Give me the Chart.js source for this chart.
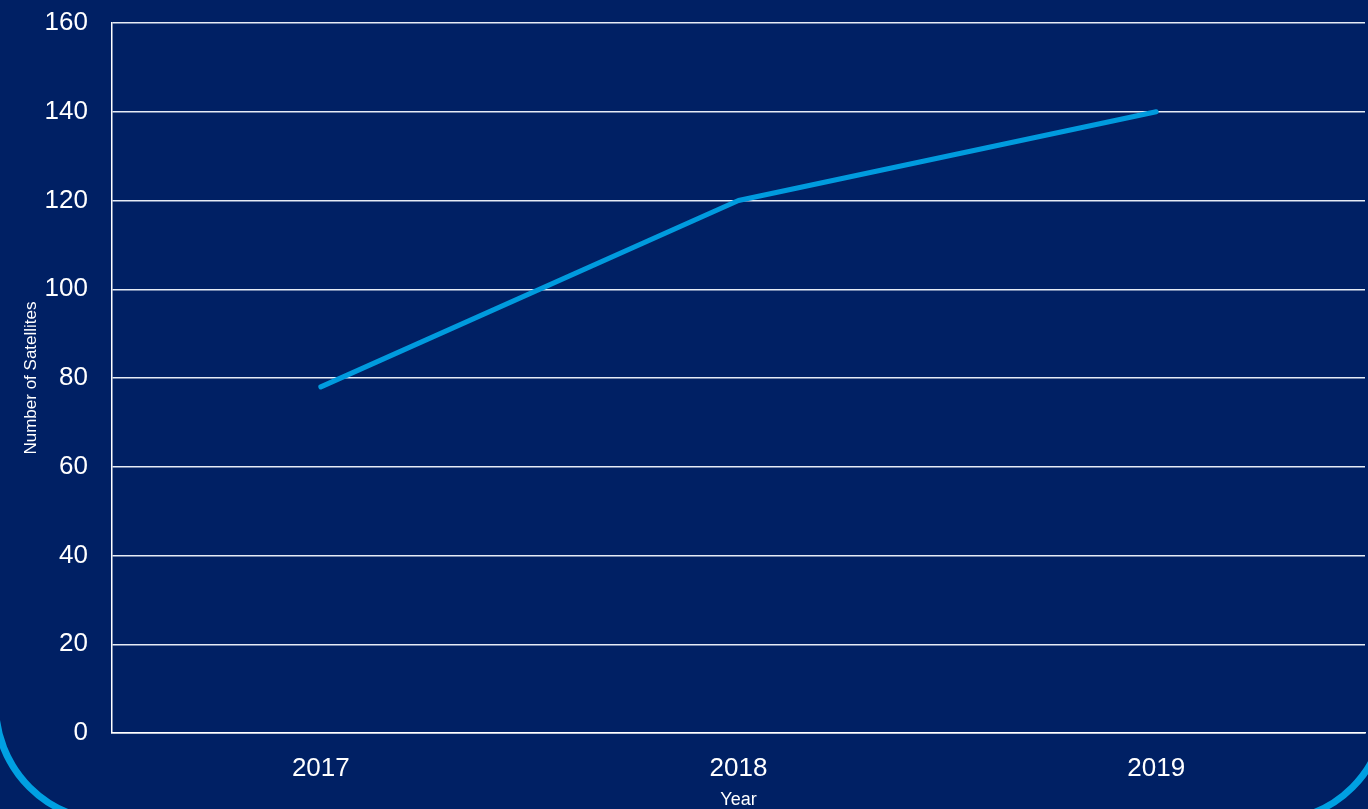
<!DOCTYPE html>
<html>
<head>
<meta charset="utf-8">
<script src="https://cdn.jsdelivr.net/npm/chart.js@4/dist/chart.umd.min.js"></script>
<style>
    html, body {
        margin: 0;
        padding: 0;
        width: 1368px;
        height: 809px;
        overflow: hidden;
        background: #002064;
    }
    /* rounded panel outline, only its lower corners show */
    #frame {
        position: absolute;
        box-sizing: border-box;
        left: -8px;
        top: -200px;
        width: 1398px;
        height: 1025px;
        border: 7px solid #00a0e2;
        border-radius: 120px;
    }
    #wrap {
        position: absolute;
        left: 0;
        top: 0;
        width: 1368px;
        height: 809px;
    }
</style>
</head>
<body>
<div id="frame"></div>
<div id="wrap"><canvas id="satChart"></canvas></div>
<script>
    // Satellites per year
    const years = ['2017', '2018', '2019'];
    const satellites = [78, 120, 140];
    const yTicks = [0, 20, 40, 60, 80, 100, 120, 140, 160];

    const FONT = '"Liberation Sans", Arial, sans-serif';
    const WHITE = '#ffffff';

    const ctx = document.getElementById('satChart').getContext('2d');
    new Chart(ctx, {
        type: 'line',
        data: {
            labels: years,
            datasets: [{
                label: 'Number of Satellites',
                data: satellites,
                borderColor: '#009bde',
                borderWidth: 5,
                borderCapStyle: 'round',
                borderJoinStyle: 'round',
                pointRadius: 0,
                tension: 0,
                fill: false
            }]
        },
        options: {
            responsive: true,
            maintainAspectRatio: false,
            animation: false,
            layout: { padding: { top: 23, right: 3, left: 0, bottom: 0 } },
            plugins: {
                legend: { display: false },
                tooltip: { enabled: false }
            },
            scales: {
                x: {
                    offset: true,
                    grid: { display: false },
                    border: { display: true, color: WHITE, width: 1.5 },
                    ticks: {
                        color: WHITE,
                        padding: 12,
                        font: { family: FONT, size: 26 }
                    },
                    title: {
                        display: true,
                        text: 'Year',
                        color: WHITE,
                        padding: { top: 0, bottom: -2 },
                        font: { family: FONT, size: 18 }
                    },
                    afterFit: function(scale) {
                        scale.height = 76;
                        scale.paddingLeft = 0;
                        scale.paddingRight = 0;
                    }
                },
                y: {
                    min: 0,
                    max: 160,
                    afterBuildTicks: function(scale) {
                        scale.ticks = yTicks.map(v => ({ value: v }));
                    },
                    grid: {
                        color: '#e6ecf6',
                        lineWidth: 1.5,
                        drawTicks: false
                    },
                    border: { display: true, color: WHITE, width: 1.5 },
                    ticks: {
                        color: WHITE,
                        padding: 24,
                        font: { family: FONT, size: 26 }
                    },
                    title: {
                        display: true,
                        text: 'Number of Satellites',
                        color: WHITE,
                        padding: { top: 21, bottom: 0 },
                        font: { family: FONT, size: 17 }
                    },
                    afterFit: function(scale) {
                        scale.width = 112;
                        scale.paddingTop = 0;
                        scale.paddingBottom = 0;
                    }
                }
            }
        }
    });
</script>
</body>
</html>
